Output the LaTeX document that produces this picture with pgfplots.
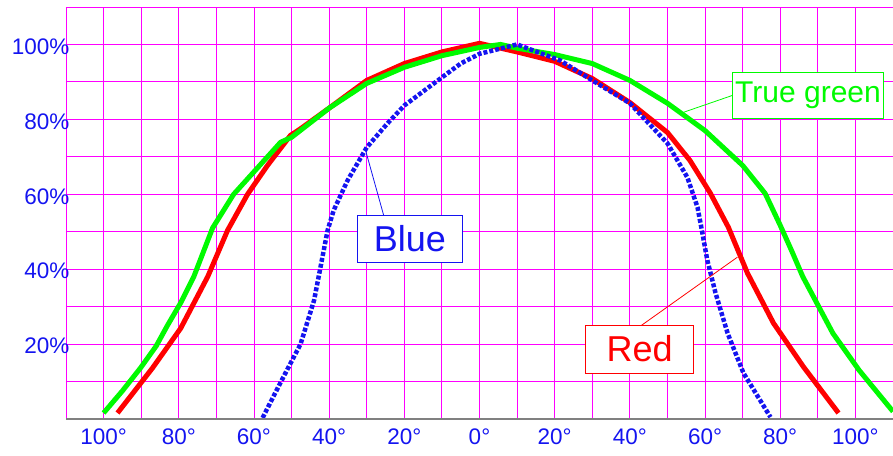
\documentclass[border=0pt]{standalone}
\usepackage{pgfplots}
\pgfplotsset{compat=1.18}
\usepackage{fontspec}
\setmainfont{Liberation Sans}
\definecolor{gridpink}{RGB}{255,0,255}
\definecolor{lblue}{RGB}{20,20,240}
\definecolor{tgreen}{RGB}{0,250,0}
\definecolor{tred}{RGB}{255,0,0}

\begin{document}
\begin{tikzpicture}
\begin{axis}[
    name=ax,
    width=827pt, height=412pt, scale only axis,
    xmin=-110, xmax=110, ymin=0, ymax=110,
    xtick={-110,-100,...,110},
    xticklabels={,100°,,80°,,60°,,40°,,20°,,0°,,20°,,40°,,60°,,80°,,100°,},
    ytick={0,10,...,110},
    yticklabels={,,20\%,,40\%,,60\%,,80\%,,100\%,},
    major tick length=0pt,
    grid=major,
    grid style={gridpink, line width=0.9pt},
    axis line style={gridpink, line width=0.9pt},
    tick label style={font=\fontsize{22.5}{26}\selectfont, text=lblue},
    yticklabel style={xshift=7pt, yshift=-2pt},
    xticklabel style={yshift=-6pt},
]
% red
\addplot[tred, line width=5pt, line join=round] coordinates {
(-96.3,1.6) (-87,13.6) (-79.5,24.2) (-72.3,38) (-67,50.4) (-61.7,60)
(-56.4,67.7) (-50.3,75.7) (-47.6,77.5) (-40,83) (-30,90.4) (-20,94.9)
(-10,98) (0,100.3) (10,98) (20,95.5) (30,90.9) (40,84.5)
(50,76.5) (56,69) (61.4,60.3) (66.2,51.2) (71.3,38.9) (78.2,25.6)
(86.2,13.9) (95.5,1.6)
};
% true green
\addplot[tgreen, line width=5pt, line join=round] coordinates {
(-100,1.6) (-95,7.5) (-90.2,13.6) (-86,19.5) (-83,25) (-79.5,31) (-76,38)
(-73.5,44.5) (-71,51) (-65.4,60) (-58.2,68) (-52.9,73.9) (-50,75.2)
(-40,83) (-30,89.6) (-20,93.9) (-10,97) (0,99.2) (5.6,100) (10,99)
(20,97.3) (30,94.9) (40,90.4) (50,84.3) (60,77) (70,67.7)
(76,60.2) (80,51.7) (83,45) (86,38) (94,22.9) (101,13) (110,2)
};
% blue
\addplot[lblue, line width=4.5pt, dash pattern=on 4pt off 2pt] coordinates {
(-57.7,0.3) (-53,9.6) (-47.6,20) (-44,31.7) (-40.4,50.4) (-38.8,55.7)
(-35.1,63.7) (-30,72.5) (-24.5,78.9) (-20,83.7) (-10,91.2) (-5,94.9)
(0,97.5) (5.6,98.9) (10,100) (21.5,95.7) (30,90.4) (40,84.3) (50,73.6)
(55.3,64.5) (58,56.5) (59.3,49.6) (60.6,42.4) (62.8,33.6) (66,22.9)
(70.2,12.3) (77.4,0.5)
};
% callouts
\draw[lblue, line width=0.8pt] (axis cs:-30.3,71.7) -- (axis cs:-25.5,54.4);
\node[draw=lblue, fill=white, text=lblue, line width=0.8pt, inner sep=0pt,
      minimum width=105pt, minimum height=47pt,
      font=\fontsize{36}{40}\selectfont] at (axis cs:-18.5,48.1) {Blue};
\draw[tgreen, line width=0.8pt] (axis cs:54.3,81.9) -- (axis cs:67.3,86.4);
\node[draw=tgreen, fill=white, text=tgreen, line width=0.8pt, inner sep=0pt,
      minimum width=151pt, minimum height=46pt,
      font=\fontsize{30}{34}\selectfont] at (axis cs:87.4,86.4) {True green};
\draw[tred, line width=0.8pt] (axis cs:68.6,43.2) -- (axis cs:42.8,24.8);
\node[draw=tred, fill=white, text=tred, line width=0.8pt, inner sep=0pt,
      minimum width=108pt, minimum height=48pt,
      font=\fontsize{36}{40}\selectfont] at (axis cs:42.6,18.7) {Red};
\end{axis}
\draw[gray, line width=2.5pt] (ax.south west) -- (ax.south east);
\pgfresetboundingbox
\path ([shift={(-66pt,-36pt)}]ax.south west) rectangle ([shift={(0pt,7pt)}]ax.north east);
\end{tikzpicture}
\end{document}
